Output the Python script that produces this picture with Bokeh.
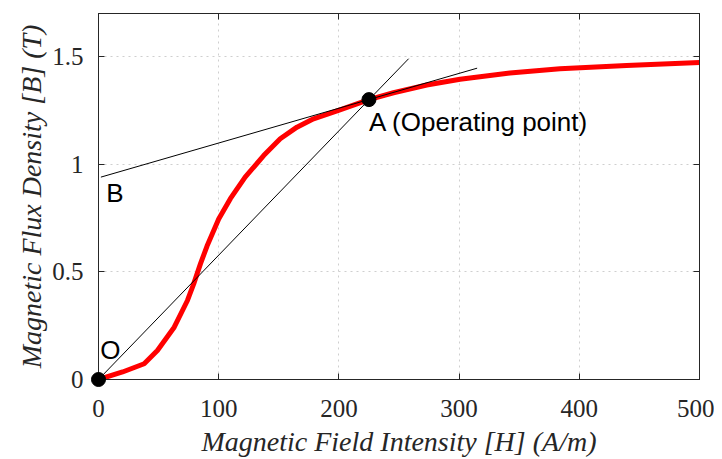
from bokeh.plotting import figure
from bokeh.models import ColumnDataSource, LinearAxis, FixedTicker, CustomJSTickFormatter, Range1d
from bokeh.core.properties import value
from bokeh.embed import file_html
from bokeh.resources import INLINE

# B-H curve
H = [0, 20, 38, 49, 63, 74, 79.2, 84.8, 90.3, 100, 109.7, 122, 137.4, 151.2, 165.1, 178.9, 199.7,
     225, 245.4, 273.1, 300.8, 342.3, 383.9, 439.3, 500]
B = [0, 0.035, 0.073, 0.135, 0.243, 0.367, 0.444, 0.537, 0.620, 0.745, 0.840, 0.940, 1.040, 1.118, 1.172,
     1.211, 1.250, 1.300, 1.332, 1.368, 1.395, 1.424, 1.443, 1.459, 1.472]

# straight line from O through A
oa_H = [0, 258]
oa_B = [0, 1.49]

# tangent at A, meeting the B axis
tan_H = [2, 315]
tan_B = [0.94, 1.446]

# marked points O and A
pts_H = [0, 225]
pts_B = [0, 1.30]

# annotations
label_text = ["O", "B", "A (Operating point)"]
label_H = [1.5, 6.5, 225]
label_B = [0.137, 0.867, 1.194]

x_ticks = [0, 100, 200, 300, 400, 500]
x_tick_labels = ["0", "100", "200", "300", "400", "500"]
y_ticks = [0, 0.5, 1, 1.5]
y_tick_labels = ["0", "0.5", "1", "1.5"]

p = figure(width=714, height=459, output_backend="svg", toolbar_location=None,
           x_range=Range1d(0, 500), y_range=Range1d(0, 1.7),
           min_border_left=98, min_border_right=15, min_border_top=13, min_border_bottom=80)
p.background_fill_color = "white"
p.border_fill_color = "white"
p.outline_line_color = "#262626"
p.outline_line_width = 1

serif = "Liberation Serif"
for ax, ticks, labels in ((p.xaxis[0], x_ticks, x_tick_labels), (p.yaxis[0], y_ticks, y_tick_labels)):
    ax.ticker = FixedTicker(ticks=ticks)
    ax.major_label_overrides = dict(zip(ticks, labels))
    ax.major_tick_in = 6
    ax.major_tick_out = 0
    ax.minor_tick_in = 0
    ax.minor_tick_out = 0
    ax.axis_line_color = "#262626"
    ax.major_tick_line_color = "#262626"
    ax.major_label_text_font = serif
    ax.major_label_text_font_size = "25px"
    ax.major_label_text_color = "#262626"
    ax.axis_label_text_font = serif
    ax.axis_label_text_font_style = "italic"
    ax.axis_label_text_font_size = "28px"
    ax.axis_label_text_color = "#262626"

p.xaxis[0].axis_label = "Magnetic Field Intensity [H] (A/m)"
p.yaxis[0].axis_label = "Magnetic Flux Density [B] (T)"
p.xaxis[0].major_label_standoff = 20
p.xaxis[0].axis_label_standoff = 6
p.yaxis[0].major_label_standoff = 15
p.yaxis[0].axis_label_standoff = 2

blank = CustomJSTickFormatter(code="return ''")
top = LinearAxis(ticker=FixedTicker(ticks=x_ticks), formatter=blank, major_tick_in=6, major_tick_out=0,
                 minor_tick_in=0, minor_tick_out=0, major_label_standoff=0,
                 axis_line_color="#262626", major_tick_line_color="#262626")
right = LinearAxis(ticker=FixedTicker(ticks=y_ticks), formatter=blank, major_tick_in=6, major_tick_out=0,
                   minor_tick_in=0, minor_tick_out=0, major_label_standoff=0,
                   axis_line_color="#262626", major_tick_line_color="#262626")
p.add_layout(top, "above")
p.add_layout(right, "right")

p.xgrid.ticker = FixedTicker(ticks=x_ticks)
p.ygrid.ticker = FixedTicker(ticks=y_ticks)
for g in (p.xgrid[0], p.ygrid[0]):
    g.grid_line_color = "#cfcfcf"
    g.grid_line_dash = "2 4"
    g.grid_line_width = 1

p.line(H, B, line_color="#ff0000", line_width=5, line_join="round")
p.line(oa_H, oa_B, line_color="black", line_width=1)
p.line(tan_H, tan_B, line_color="black", line_width=1)
p.scatter(pts_H, pts_B, size=14, fill_color="black", line_color="black", level="overlay")

src = ColumnDataSource(dict(x=label_H, y=label_B, t=label_text))
p.text(x="x", y="y", text="t", source=src, text_font=value("Liberation Sans"),
       text_font_size="26px", text_color="black", text_align="left", text_baseline="alphabetic")

open("out.html", "w").write(file_html(p, INLINE))
